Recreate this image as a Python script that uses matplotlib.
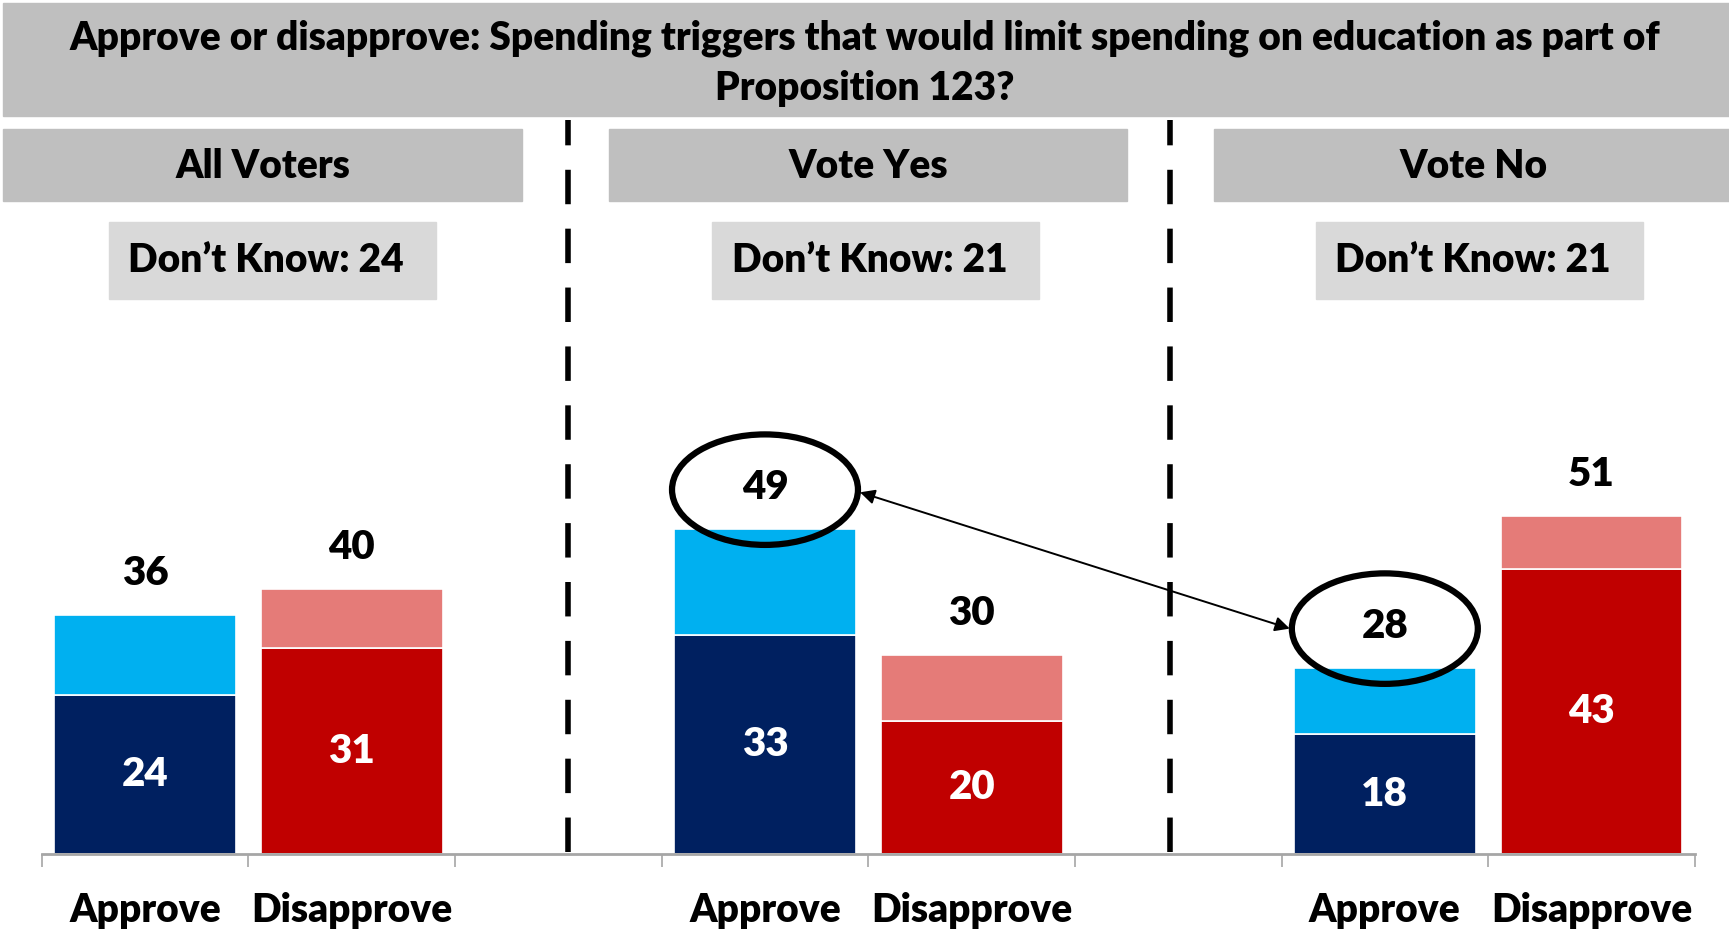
import matplotlib.pyplot as plt
from matplotlib.patches import Rectangle, Ellipse

plt.rcParams['font.family'] = ['Lato', 'DejaVu Sans']
plt.rcParams['font.weight'] = 'bold'

groups = ["All Voters", "Vote Yes", "Vote No"]
dont_know = [24, 21, 21]
approve_strong = [24, 33, 18]
approve_total = [36, 49, 28]
disapprove_strong = [31, 20, 43]
disapprove_total = [40, 30, 51]
cat_labels = ["Approve", "Disapprove"]
title = ("Approve or disapprove: Spending triggers that would limit spending on education as part of\n"
         "Proposition 123?")

navy, sky = '#002060', '#00B0F0'
red, pink = '#C00000', '#E57B78'
fs = 28

fig = plt.figure(figsize=(17.29, 9.33), dpi=100)
ax = fig.add_axes([0.0242, 0.0851, 0.956, 0.5603])
ax.set_xlim(-0.5, 7.5)
ax.set_ylim(0, 79)

w = 0.88
pos_a = [3 * i for i in range(3)]
pos_d = [3 * i + 1 for i in range(3)]
soft_a = [t - s for t, s in zip(approve_total, approve_strong)]
soft_d = [t - s for t, s in zip(disapprove_total, disapprove_strong)]

ax.bar(pos_a, approve_strong, w, color=navy, edgecolor='white', linewidth=1.2)
ax.bar(pos_a, soft_a, w, bottom=approve_strong, color=sky, edgecolor='white', linewidth=1.2)
ax.bar(pos_d, disapprove_strong, w, color=red, edgecolor='white', linewidth=1.2)
ax.bar(pos_d, soft_d, w, bottom=disapprove_strong, color=pink, edgecolor='white', linewidth=1.2)

for x, s, t in zip(pos_a + pos_d, approve_strong + disapprove_strong,
                   approve_total + disapprove_total):
    ax.text(x, s / 2, str(s), ha='center', va='center', color='white',
            fontsize=fs + 1, fontweight='heavy')
    ax.text(x, t + 6.3, str(t), ha='center', va='center', color='black',
            fontsize=fs + 1, fontweight='heavy')

# circle the approve totals for Vote Yes / Vote No and link them
for i in (1, 2):
    ax.add_patch(Ellipse((pos_a[i], approve_total[i] + 6), 0.9, 16.7, fill=False,
                         edgecolor='black', linewidth=4.5, zorder=5))
ax.annotate('', xy=(pos_a[1] + 0.46, approve_total[1] + 5.6),
            xytext=(pos_a[2] - 0.46, approve_total[2] + 6),
            arrowprops=dict(arrowstyle='<|-|>', color='black', lw=1.4,
                            mutation_scale=22, shrinkA=0, shrinkB=0), zorder=6)

for s in ('top', 'right', 'left'):
    ax.spines[s].set_visible(False)
ax.spines['bottom'].set_color('#A6A6A6')
ax.spines['bottom'].set_linewidth(2)
ax.set_yticks([])
ax.set_xticks(pos_a + pos_d)
ax.set_xticklabels(cat_labels[:1] * 3 + cat_labels[1:] * 3, fontsize=fs, fontweight='heavy')
ax.set_xticks([b - 0.5 for b in range(9)], minor=True)
ax.tick_params(axis='x', which='major', length=0, pad=28)
ax.tick_params(axis='x', which='minor', length=9.5, width=1.2, color='#A6A6A6')

# header boxes
fig.patches.append(Rectangle((0.002, 0.876), 0.998, 0.121, transform=fig.transFigure,
                             color='#BFBFBF', zorder=0))
fig.text(0.5, 0.932, title, ha='center', va='center', fontsize=fs, fontweight='heavy',
         linespacing=1.42)

box_x = [0.002, 0.352, 0.702]
dk_x = [0.063, 0.412, 0.761]
for bx, dx, g, d in zip(box_x, dk_x, groups, dont_know):
    fig.patches.append(Rectangle((bx, 0.785), 0.3, 0.077, transform=fig.transFigure,
                                 color='#BFBFBF', zorder=0))
    fig.text(bx + 0.15, 0.822, g, ha='center', va='center', fontsize=fs, fontweight='heavy')
    fig.patches.append(Rectangle((dx, 0.68), 0.189, 0.082, transform=fig.transFigure,
                                 color='#D9D9D9', zorder=0))
    fig.text(dx + 0.091, 0.721, "Don\u2019t Know: %d" % d, ha='center', va='center',
             fontsize=fs, fontweight='heavy')

# dashed separators between groups
for xs in (0.3284, 0.6767):
    fig.add_artist(plt.Line2D([xs, xs], [0.087, 0.871], transform=fig.transFigure,
                              color='black', linewidth=4, dashes=(6.2, 4.4)))

fig.savefig('out.png', dpi=100)
